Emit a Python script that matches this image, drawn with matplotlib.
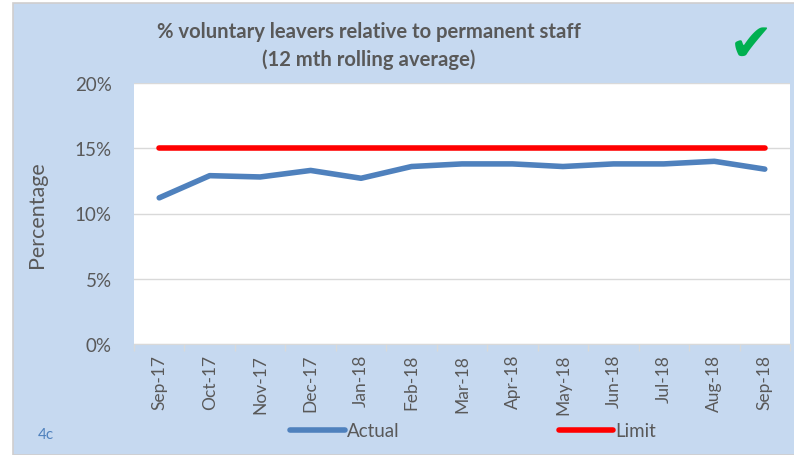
import matplotlib.pyplot as plt
from matplotlib.lines import Line2D
from matplotlib.patches import Rectangle

months = ["Sep-17", "Oct-17", "Nov-17", "Dec-17", "Jan-18", "Feb-18", "Mar-18",
          "Apr-18", "May-18", "Jun-18", "Jul-18", "Aug-18", "Sep-18"]
actual = [11.2, 12.9, 12.8, 13.3, 12.7, 13.6, 13.8, 13.8, 13.6, 13.8, 13.8, 14.0, 13.4]
limit = [15] * len(months)
yticks = [0, 5, 10, 15, 20]

bg = "#C6D9F0"
txt = "#595959"
plt.rcParams["font.family"] = ["Lato", "DejaVu Sans"]

fig = plt.figure(figsize=(7.94, 4.56), dpi=100, facecolor="white")
# blue chart area with thin grey border, white strip on the left
fig.patches.append(Rectangle((13 / 794, 0), 1, 1 - 4 / 456, transform=fig.transFigure,
                             facecolor=bg, edgecolor="#D0CECE", lw=1.2, zorder=-5))

ax = fig.add_axes([134 / 794, 1 - 345 / 456, (790 - 134) / 794, (345 - 84) / 456])
ax.set_facecolor("white")

x = range(len(months))
ax.plot(x, limit, color="#FF0000", lw=4, solid_capstyle="round", zorder=3)
ax.plot(x, actual, color="#4F81BD", lw=4, solid_capstyle="round", zorder=4)

ax.set_xlim(-0.5, len(months) - 0.5)
ax.set_ylim(0, 20)
ax.set_yticks(yticks)
ax.set_yticklabels([f"{v}%" for v in yticks], fontsize=13.5, color=txt)
ax.yaxis.grid(True, color="#D9D9D9", lw=1)
ax.set_axisbelow(True)
ax.tick_params(axis="y", length=0, pad=16)

ax.set_xticks(list(x))
ax.set_xticklabels(months, rotation=90, fontsize=12.5, color=txt)
ax.set_xticks([i - 0.5 for i in range(len(months) + 1)], minor=True)
ax.tick_params(axis="x", which="major", length=0, pad=7)
ax.tick_params(axis="x", which="minor", length=5, color="#D9D9D9", width=1)

for s in ["top", "right", "left"]:
    ax.spines[s].set_visible(False)
ax.spines["bottom"].set_color("#D9D9D9")

ax.set_ylabel("Percentage", fontsize=15.5, color=txt, labelpad=20)

fig.text(369 / 794, 1 - 32 / 456, "% voluntary leavers relative to permanent staff",
         ha="center", va="center", fontsize=14.6, fontweight="bold", color=txt)
fig.text(369 / 794, 1 - 60 / 456, "(12 mth rolling average)",
         ha="center", va="center", fontsize=14.6, fontweight="bold", color=txt)
fig.text(751 / 794, 1 - 46 / 456, "\u2714", ha="center", va="center",
         fontsize=38, color="#00B050", family="DejaVu Sans")
fig.text(46 / 794, 1 - 435 / 456, "4c", ha="center", va="center",
         fontsize=11, color="#4F81BD")

handles = [Line2D([], [], color="#4F81BD", lw=4, solid_capstyle="round"),
           Line2D([], [], color="#FF0000", lw=4, solid_capstyle="round")]
fig.legend(handles, ["Actual", "Limit"], loc="center", bbox_to_anchor=(473 / 794, 1 - 432 / 456),
           ncol=2, frameon=False, fontsize=13.5, handlelength=2.9, handletextpad=0.1,
           columnspacing=8.5, labelcolor=txt)

fig.savefig("out.png", dpi=100, facecolor="white")
